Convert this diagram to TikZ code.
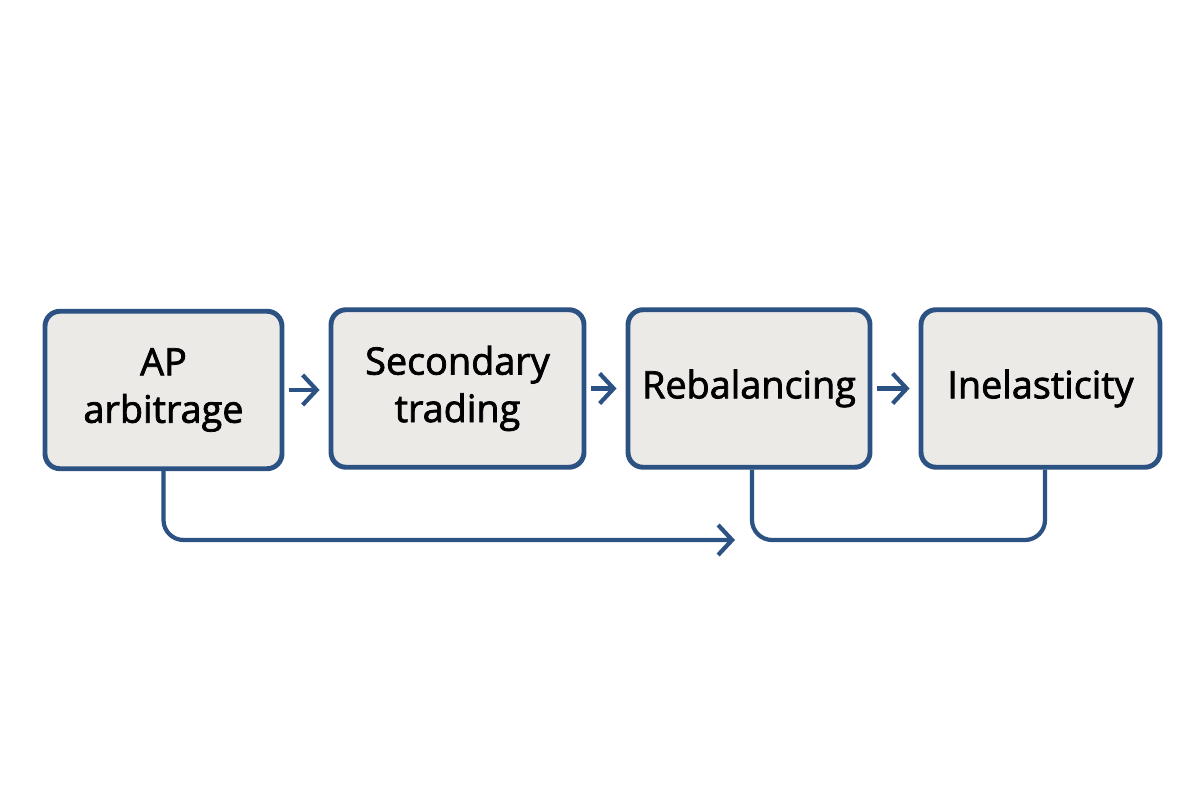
\documentclass[tikz,border=0pt]{standalone}
\usepackage{fontspec}
\setmainfont{Open Sans}[FakeBold=2,AutoFakeBold=2]
\usetikzlibrary{arrows.meta,positioning}
\definecolor{boxblue}{HTML}{2B5283}
\definecolor{boxfill}{HTML}{ECEAE7}

\begin{document}
\begin{tikzpicture}[
    stage/.style={draw=boxblue,line width=2.8pt,fill=boxfill,rounded corners=0.3cm,
        minimum height=3.15cm,align=center,font=\fontsize{21.5}{27}\selectfont\bfseries},
    flow/.style={draw=boxblue,line width=2.4pt,-{Straight Barb[length=0.28cm,width=0.6cm]}},
    link/.style={draw=boxblue,line width=2.4pt,rounded corners=0.4cm}]
    \useasboundingbox (0,0) rectangle (24,16);

    % Stages
    \node[stage,minimum width=4.74cm] (ap) at (3.27,8.2) {AP\\arbitrage};
    \node[stage,minimum width=5.06cm] (sec) at (9.15,8.23) {Secondary\\trading};
    \node[stage,minimum width=4.84cm] (reb) at (14.98,8.23) {Rebalancing};
    \node[stage,minimum width=4.78cm] (inel) at (20.81,8.23) {Inelasticity};

    % Arrows between stages
    \draw[flow] ([xshift=0.1cm]ap.east) -- ([xshift=-0.18cm]sec.west |- ap.east);
    \draw[flow] ([xshift=0.1cm]sec.east) -- ([xshift=-0.18cm]reb.west);
    \draw[flow] ([xshift=0.1cm]reb.east) -- ([xshift=-0.18cm]inel.west);

    % Bottom connectors
    \coordinate (apend) at (14.7,5.2);
    \draw[link,-{Straight Barb[length=0.28cm,width=0.6cm]}] (ap.south) -- (ap.south |- apend) -- (apend);
    \coordinate (rebdown) at ([xshift=0.06cm]reb.south);
    \coordinate (ineldown) at ([xshift=0.09cm]inel.south);
    \draw[link] (rebdown) -- (rebdown |- apend) -| (ineldown);
\end{tikzpicture}
\end{document}
